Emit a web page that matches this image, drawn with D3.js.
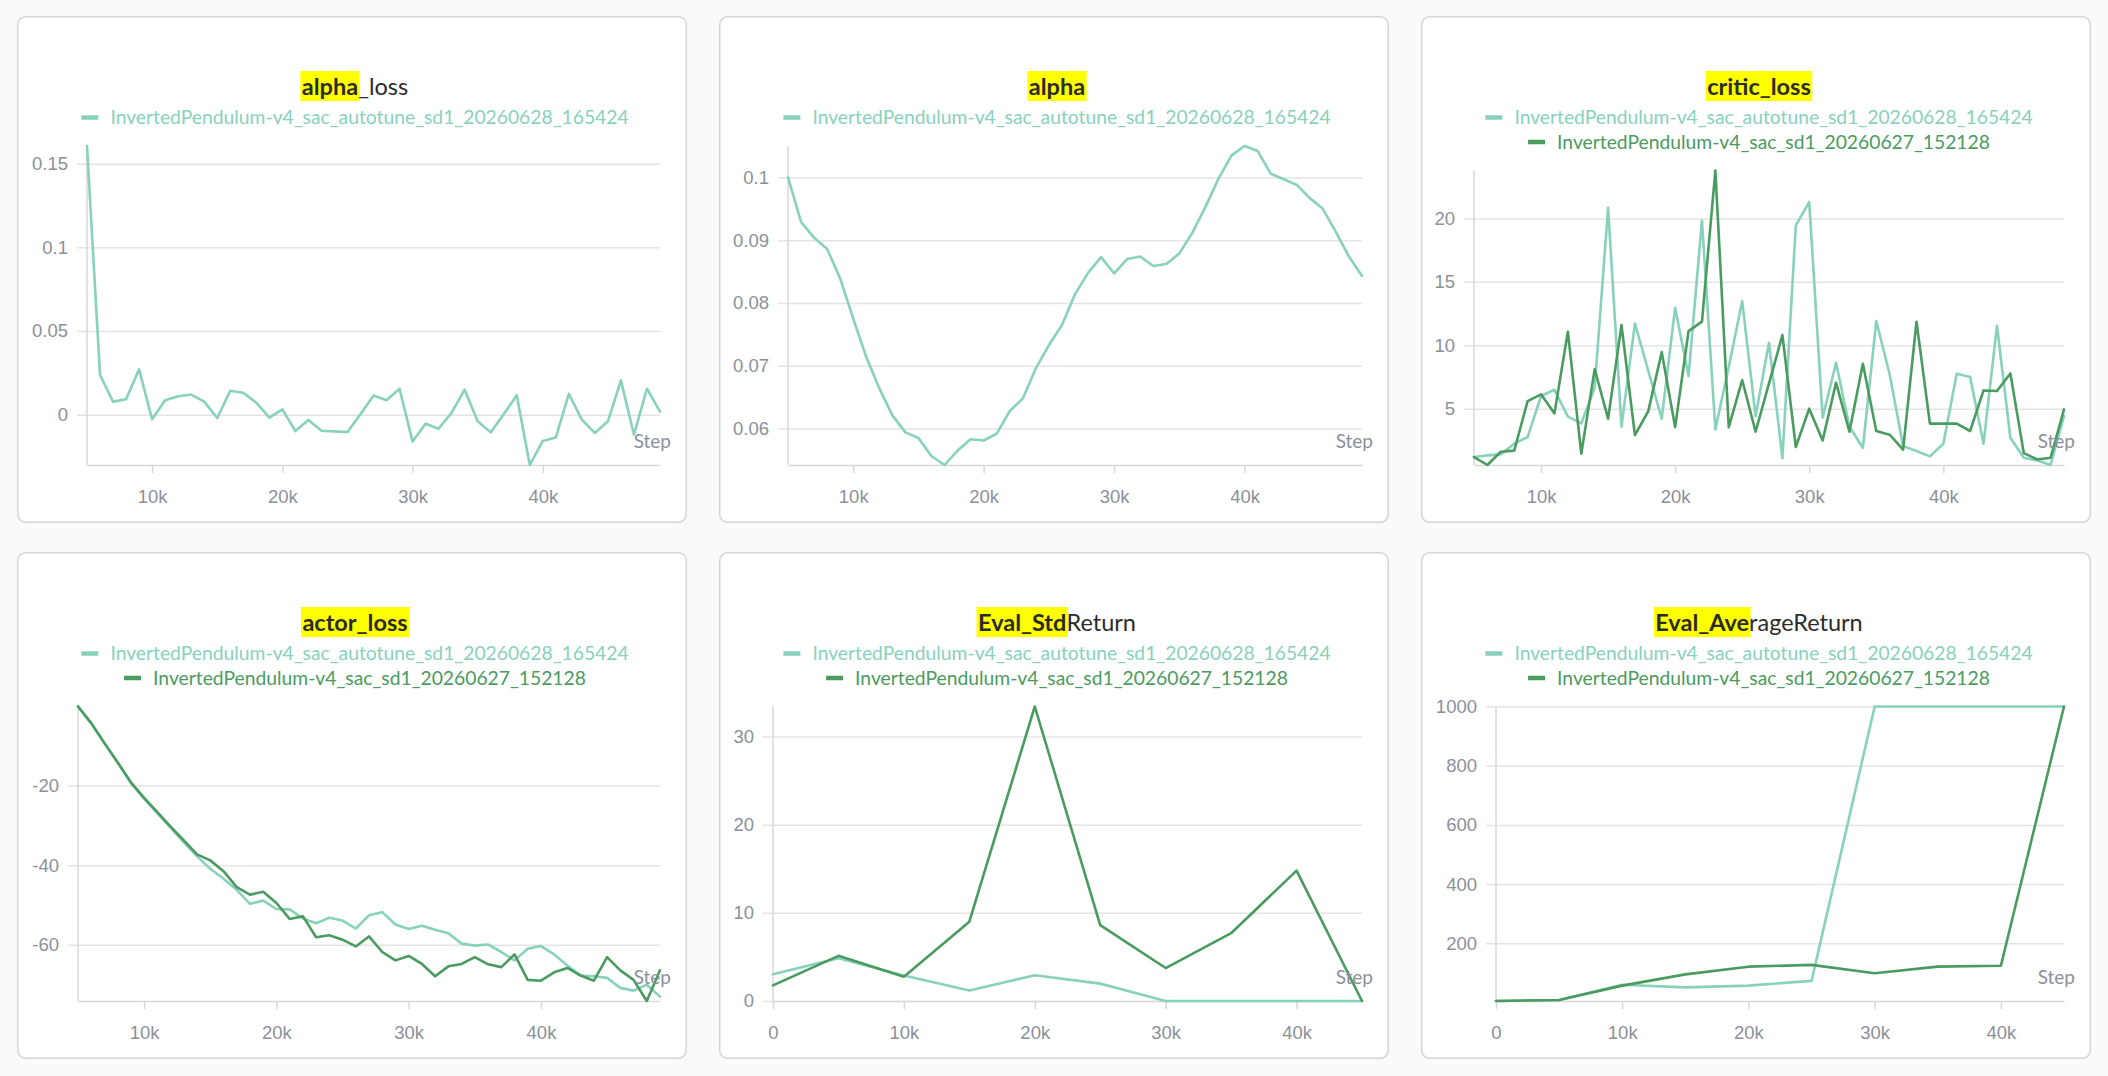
<!DOCTYPE html>
<html><head><meta charset="utf-8">
<script src="https://cdn.jsdelivr.net/npm/d3@7"></script>
<style>
html,body{margin:0;padding:0;background:#fafafa;}
svg{display:block;font-family:Lato,"Noto Sans",sans-serif;}
</style></head><body>
<svg id="chart" width="2108" height="1076"></svg>
<script>
// ---------- data ----------
const runA = "InvertedPendulum-v4_sac_autotune_sd1_20260628_165424";
const runB = "InvertedPendulum-v4_sac_sd1_20260627_152128";
const colorA = "#88d1bd";
const colorB = "#4a9b5f";

const trainSteps = [5000,6000,7000,8000,9000,10000,11000,12000,13000,14000,15000,16000,17000,18000,19000,
  20000,21000,22000,23000,24000,25000,26000,27000,28000,29000,30000,31000,32000,33000,34000,35000,36000,
  37000,38000,39000,40000,41000,42000,43000,44000,45000,46000,47000,48000,49000];
const evalSteps = [0,5000,10000,15000,20000,25000,30000,35000,40000,45000];

const alphaLossA = [0.1606,0.0237,0.0078,0.0092,0.0271,-0.0028,0.0086,0.0110,0.0120,0.0078,-0.0020,0.0143,0.0131,
  0.0072,-0.0018,0.0032,-0.0098,-0.0032,-0.0096,-0.0100,-0.0104,0.0002,0.0114,0.0086,0.0155,-0.0161,-0.0054,
  -0.0084,0.0012,0.0149,-0.0040,-0.0106,0.0002,0.0116,-0.0301,-0.0157,-0.0137,0.0124,-0.0030,-0.0110,-0.0040,
  0.0205,-0.0120,0.0155,0.0018];

const alphaA = [0.1000,0.0929,0.0904,0.0886,0.0839,0.0775,0.0714,0.0664,0.0621,0.0594,0.0585,0.0556,0.0542,
  0.0565,0.0583,0.0581,0.0592,0.0628,0.0648,0.0696,0.0733,0.0765,0.0814,0.0848,0.0873,0.0847,0.0870,0.0874,
  0.0859,0.0862,0.0879,0.0912,0.0953,0.0998,0.1035,0.1050,0.1042,0.1006,0.0997,0.0988,0.0967,0.0950,0.0913,
  0.0874,0.0843];

const criticLossA = [1.19,1.32,1.40,2.24,2.76,6.00,6.49,4.37,3.84,6.65,20.84,3.58,11.72,7.97,4.21,12.96,7.57,
  19.84,3.37,8.3,13.48,4.4,10.2,1.1,19.45,21.29,4.29,8.62,3.58,1.92,11.91,7.70,2.05,1.66,1.24,2.24,7.76,7.49,
  2.24,11.54,2.71,1.13,0.92,0.56,4.42];
const criticLossB = [1.19,0.56,1.61,1.69,5.60,6.13,4.63,11.07,1.45,8.12,4.21,11.59,2.92,4.81,9.46,3.55,11.12,
  11.86,23.78,3.55,7.26,3.18,7.0,10.8,1.98,5.00,2.50,7.05,3.18,8.54,3.24,2.95,1.77,11.86,3.82,3.82,3.82,3.24,
  6.44,6.39,7.78,1.50,1.00,1.13,4.94];

const actorLossA = [-0.17,-4.4,-9.4,-14.3,-19.4,-23.3,-27.0,-30.6,-34.3,-37.8,-40.9,-43.4,-46.2,-49.7,-48.9,
  -51.0,-51.1,-53.4,-54.6,-53.2,-53.9,-55.9,-52.6,-51.8,-54.9,-56.0,-55.2,-56.2,-57.1,-59.7,-60.2,-59.9,-61.8,
  -63.9,-61.0,-60.3,-62.4,-65.2,-67.7,-67.9,-68.3,-70.8,-71.5,-70.0,-73.0];
const actorLossB = [-0.17,-4.35,-9.37,-14.2,-19.2,-23.1,-26.7,-30.3,-33.8,-37.3,-38.8,-41.5,-45.5,-47.4,-46.7,
  -49.5,-53.5,-52.8,-58.1,-57.6,-58.7,-60.4,-57.9,-61.8,-63.9,-62.8,-64.8,-67.9,-65.4,-64.8,-63.1,-64.9,-65.6,
  -62.4,-68.8,-69.0,-66.9,-65.8,-67.7,-69.0,-63.1,-66.4,-68.8,-74.1,-66.4];

const evalStdA = [3.04,4.85,2.88,1.18,2.92,1.97,0,0,0,0];
const evalStdB = [1.77,5.12,2.76,8.99,33.4,8.6,3.74,7.69,14.78,0];

const evalAvgA = [5,8.5,60,51,57,73,1000,1000,1000,1000];
const evalAvgB = [5,8.5,57,95,121,127,99,121,124,1000];

const xTicksTrain = [10000,20000,30000,40000];
const xTicksEval = [0,10000,20000,30000,40000];
const yTicksAlphaLoss = [0,0.05,0.1,0.15];
const yTicksAlpha = [0.06,0.07,0.08,0.09,0.1];
const yTicksCritic = [5,10,15,20];
const yTicksActor = [-60,-40,-20];
const yTicksStd = [0,10,20,30];
const yTicksAvg = [200,400,600,800,1000];

// ---------- chart definitions ----------
const charts = [
  {title:"alpha_loss", hl:5, steps:trainSteps, xTicks:xTicksTrain, yTicks:yTicksAlphaLoss, left:70,
   series:[{name:runA,color:colorA,values:alphaLossA}]},
  {title:"alpha", hl:5, steps:trainSteps, xTicks:xTicksTrain, yTicks:yTicksAlpha, left:69,
   series:[{name:runA,color:colorA,values:alphaA}]},
  {title:"critic_loss", hl:11, steps:trainSteps, xTicks:xTicksTrain, yTicks:yTicksCritic, left:53,
   series:[{name:runA,color:colorA,values:criticLossA},{name:runB,color:colorB,values:criticLossB}]},
  {title:"actor_loss", hl:10, steps:trainSteps, xTicks:xTicksTrain, yTicks:yTicksActor, left:61,
   series:[{name:runA,color:colorA,values:actorLossA},{name:runB,color:colorB,values:actorLossB}]},
  {title:"Eval_StdReturn", hl:8, steps:evalSteps, xTicks:xTicksEval, yTicks:yTicksStd, left:54,
   series:[{name:runA,color:colorA,values:evalStdA},{name:runB,color:colorB,values:evalStdB}]},
  {title:"Eval_AverageReturn", hl:8, steps:evalSteps, xTicks:xTicksEval, yTicks:yTicksAvg, left:75,
   series:[{name:runA,color:colorA,values:evalAvgA},{name:runB,color:colorB,values:evalAvgB}]}
];

// ---------- layout ----------
const panelX = [17, 719, 1421], panelY = [16, 552];
const panelW = 670, panelH = 507;
const tickColor = "#8b909a", gridColor = "#e4e4e4", axisColor = "#d8d8d8";
const xFmt = v => v === 0 ? "0" : (v/1000) + "k";

const svg = d3.select("#chart");

charts.forEach((c, i) => {
  const px = panelX[i % 3], py = panelY[Math.floor(i / 3)];
  const g = svg.append("g").attr("transform", `translate(${px},${py})`);
  g.append("rect").attr("x", 0.75).attr("y", 0.75)
    .attr("width", panelW - 1.5).attr("height", panelH - 1.5)
    .attr("rx", 8).attr("fill", "#fff").attr("stroke", "#d4d4d4").attr("stroke-width", 1.5);

  const cx = panelW / 2 + 3;

  // title with highlight
  const t = g.append("text").attr("y", 70).attr("dominant-baseline", "central")
    .attr("font-size", 23.5).attr("fill", "#2b2b2b");
  t.append("tspan").attr("font-weight", 700).text(c.title.slice(0, c.hl));
  t.append("tspan").attr("font-weight", 400).text(c.title.slice(c.hl));
  const tw = t.node().getComputedTextLength();
  const hw = t.node().getSubStringLength(0, c.hl);
  const tx = cx - tw / 2;
  t.attr("x", tx);
  g.insert("rect", () => t.node()).attr("x", tx - 1.5).attr("y", 55).attr("width", hw + 3)
    .attr("height", 30).attr("fill", "#ffff00");

  // legend
  c.series.forEach((s, k) => {
    const ly = 101.5 + k * 24.5;
    const lg = g.append("g");
    const txt = lg.append("text").attr("y", ly - 1).attr("dominant-baseline", "central")
      .attr("font-size", 19.3).attr("fill", s.color).text(s.name);
    const w = 17 + 12 + txt.node().getComputedTextLength();
    const sx = cx - w / 2;
    lg.append("line").attr("x1", sx).attr("x2", sx + 17).attr("y1", ly).attr("y2", ly)
      .attr("stroke", s.color).attr("stroke-width", 4.5);
    txt.attr("x", sx + 29);
  });

  // scales
  const top = c.series.length === 1 ? 130 : 154.5;
  const bottom = 449;
  const left = c.left, right = panelW - 27;
  const x = d3.scaleLinear().domain(d3.extent(c.steps)).range([left, right]);
  const allVals = c.series.flatMap(s => s.values);
  const y = d3.scaleLinear().domain(d3.extent(allVals)).range([bottom, top]);

  // y axis (gridlines extend 10px left of axis)
  const ya = g.append("g").attr("transform", `translate(${left - 10},0)`)
    .call(d3.axisLeft(y).tickValues(c.yTicks).tickSize(-(right - left + 10)).tickPadding(9)
      .tickFormat(v => String(v)));
  ya.select(".domain").remove();
  ya.selectAll(".tick line").attr("stroke", gridColor).attr("stroke-width", 1.5);
  ya.selectAll(".tick text").attr("fill", tickColor).attr("font-size", 18.5).attr("font-family", null);

  // vertical axis line
  g.append("line").attr("x1", left).attr("x2", left).attr("y1", top).attr("y2", bottom)
    .attr("stroke", axisColor).attr("stroke-width", 1.5);

  // x axis
  const xa = g.append("g").attr("transform", `translate(0,${bottom})`)
    .call(d3.axisBottom(x).tickValues(c.xTicks).tickSize(8).tickSizeOuter(0).tickPadding(17).tickFormat(xFmt));
  xa.select(".domain").attr("stroke", axisColor).attr("stroke-width", 1.5);
  xa.selectAll(".tick line").attr("stroke", axisColor).attr("stroke-width", 1.5);
  xa.selectAll(".tick text").attr("fill", tickColor).attr("font-size", 18.5).attr("font-family", null);

  // lines
  const line = d3.line().x((d, j) => x(c.steps[j])).y(d => y(d));
  c.series.forEach(s => {
    g.append("path").datum(s.values).attr("d", line).attr("fill", "none")
      .attr("stroke", s.color).attr("stroke-width", 2.6)
      .attr("stroke-linejoin", "round").attr("stroke-linecap", "round");
  });

  // Step label
  g.append("text").attr("x", right + 11).attr("y", bottom - 17).attr("text-anchor", "end")
    .attr("font-size", 19).attr("fill", tickColor).text("Step");
});
</script>
</body></html>
